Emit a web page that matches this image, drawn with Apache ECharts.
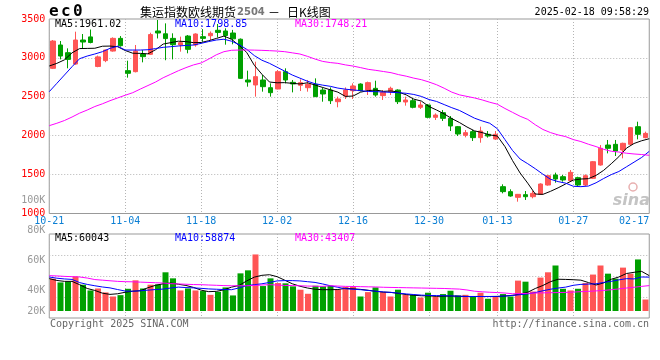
<!DOCTYPE html>
<html><head><meta charset="utf-8">
<script src="https://cdn.jsdelivr.net/npm/echarts@6/dist/echarts.min.js"></script>
<style>html,body{margin:0;padding:0;background:#fff}#c{width:660px;height:360px}</style>
</head><body><div id="c"></div>
<script>
const dates = ['10-21','10-22','10-23','10-24','10-25','10-28','10-29','10-30','10-31','11-01',
'11-04','11-05','11-06','11-07','11-08','11-11','11-12','11-13','11-14','11-15',
'11-18','11-19','11-20','11-21','11-22','11-25','11-26','11-27','11-28','11-29',
'12-02','12-03','12-04','12-05','12-06','12-09','12-10','12-11','12-12','12-13',
'12-16','12-17','12-18','12-19','12-20','12-23','12-24','12-25','12-26','12-27',
'12-30','12-31','01-02','01-03','01-06','01-07','01-08','01-09','01-10',
'01-13','01-14','01-15','01-16','01-17','01-20','01-21','01-22','01-23','01-24',
'01-27','02-05','02-06','02-07','02-10','02-11','02-12','02-13','02-14','02-17','02-18'];
const openP = [2866,3166,3067,2921,3230,3270,2890,2965,3088,3251,2836,2823,3050,3046,3346,3310,3251,3166,3281,3166,3273,3285,3355,3346,3320,3240,2716,2652,2716,2617,2600,2823,2686,2648,2617,2660,2587,2587,2437,2510,2579,2664,2587,2609,2515,2566,2587,2433,2450,2365,2395,2236,2296,2223,2116,2005,2052,1975,2018,1957,1345,1281,1208,1242,1216,1246,1366,1495,1473,1422,1461,1366,1452,1623,1880,1889,1816,1889,2116,1975];
const closeP = [3217,3024,2981,3230,3204,3198,3013,3101,3251,3157,2802,3088,3016,3300,3320,3248,3170,3196,3110,3307,3251,3316,3328,3288,3245,2737,2690,2759,2630,2553,2823,2716,2665,2682,2660,2502,2536,2450,2472,2587,2639,2579,2682,2523,2557,2609,2437,2459,2365,2395,2236,2266,2223,2125,2022,2039,1975,2060,1996,2018,1281,1225,1246,1216,1259,1379,1486,1443,1431,1529,1366,1486,1666,1838,1838,1803,1902,2103,2018,2030];
const lowP = [2857,2981,2866,2910,3123,3187,2880,2945,3080,3144,2746,2814,2943,3037,3250,2970,2981,3080,3059,3144,3208,3230,3264,3170,3175,2730,2630,2502,2566,2502,2596,2673,2557,2574,2566,2502,2437,2407,2365,2472,2472,2570,2523,2502,2459,2523,2407,2386,2352,2343,2223,2202,2189,2060,1996,1979,1932,1910,1975,1945,1259,1216,1152,1174,1195,1238,1358,1396,1409,1409,1345,1353,1443,1615,1773,1739,1709,1880,1953,1966];
const highP = [3230,3217,3123,3337,3307,3365,3030,3105,3264,3281,2964,3166,3101,3324,3487,3444,3316,3273,3294,3316,3370,3340,3436,3380,3360,3250,2836,2951,2780,2673,2844,2866,2716,2724,2716,2737,2621,2621,2502,2621,2673,2673,2695,2707,2587,2630,2596,2502,2480,2437,2407,2287,2330,2253,2125,2073,2073,2116,2060,2060,1375,1311,1251,1289,1289,1388,1495,1525,1495,1559,1473,1503,1675,1880,1945,1945,1910,2108,2180,2052];
const ma5 = [2896,2930,2975,3065,3120,3122,3124,3150,3152,3144,3095,3060,3058,3052,3105,3178,3196,3215,3209,3196,3198,3221,3250,3280,3240,3160,3070,2905,2790,2690,2680,2682,2673,2665,2680,2652,2620,2590,2560,2505,2510,2560,2580,2587,2570,2575,2560,2525,2470,2445,2375,2330,2280,2220,2170,2112,2062,2040,2010,1996,1860,1680,1520,1390,1250,1246,1285,1330,1380,1430,1443,1448,1490,1555,1640,1730,1840,1900,1935,1961];
const ma10 = [2566,2673,2780,2887,2990,3024,3050,3080,3123,3150,3101,3101,3101,3105,3120,3136,3144,3153,3160,3166,3187,3210,3230,3240,3215,3170,3110,3030,2970,2930,2880,2830,2780,2740,2700,2668,2650,2635,2612,2598,2588,2579,2568,2566,2562,2557,2553,2545,2530,2505,2465,2440,2400,2360,2325,2275,2225,2190,2160,2090,1950,1810,1700,1640,1575,1505,1440,1410,1390,1350,1345,1353,1395,1450,1500,1540,1600,1660,1720,1799];
const ma30 = [2129,2160,2195,2240,2290,2330,2375,2410,2450,2485,2520,2553,2600,2645,2690,2745,2790,2835,2875,2910,2935,2985,3040,3080,3098,3101,3102,3100,3097,3093,3088,3080,3065,3050,3020,2985,2955,2940,2930,2910,2895,2875,2853,2840,2825,2810,2785,2765,2740,2720,2690,2655,2610,2560,2525,2505,2485,2460,2430,2405,2350,2300,2250,2210,2140,2080,2040,2010,1988,1950,1925,1890,1860,1825,1800,1790,1775,1765,1758,1748];
const volume = [48000,45500,46000,49500,44000,40200,41500,38900,36200,37100,41300,46900,41500,44000,44200,52200,48200,40200,41500,40200,39800,37300,39300,42200,36900,51500,53500,64000,43100,48200,45100,44900,42900,40700,38000,43300,42900,43300,40700,42500,42500,36200,39100,42200,39100,36200,40700,37300,37300,35500,38700,36200,37800,40000,36900,37300,36200,38700,34700,36200,37800,36200,46700,46000,39500,48700,52200,56700,41300,40200,41300,45100,50700,56700,51300,48000,55300,51300,60700,34200];
const volMa5 = [48000,46800,46200,46200,44000,41500,40200,38400,37600,38000,39000,39700,40000,42000,43600,44600,45100,44300,43500,42200,40400,39400,39600,40600,42400,43500,46500,49000,50200,50600,49300,47000,44600,43000,41800,41000,40700,40700,40800,41600,41300,40900,40300,39600,39100,38900,38200,37500,37000,36700,36600,36300,36400,36500,36300,36200,36200,36200,36200,36200,36500,37000,37800,39000,41500,43500,46000,47600,47500,47300,47000,45400,43800,45200,47600,49100,51400,52200,52800,50000];
const volMa10 = [49100,48300,47800,47500,45400,44200,43300,42500,41900,40800,39800,39700,40000,40400,40800,41100,41800,42400,42100,41900,41600,41200,41000,40800,40700,41900,43400,44000,44600,45500,46500,46700,46700,46500,46000,45500,44500,43300,42300,41300,41000,40700,40200,39700,39200,38900,38400,37900,37500,37100,36900,36800,36700,36600,36400,36200,36200,36200,36200,36300,36500,36900,37400,37900,38800,40000,41000,41800,42400,43600,44200,44400,44600,45500,46200,47200,48000,47800,49100,49000];
const volMa30 = [50000,49800,49500,49300,49100,48400,47400,47000,46600,46200,46000,45900,45700,45500,45300,45100,44700,44500,44300,44100,44000,43800,43600,43400,43300,43300,43300,43500,43800,44000,43800,43500,43400,43300,43100,43000,42900,43300,43100,42900,42800,42700,42600,42500,42300,42200,42100,42000,41900,41800,41700,41600,41500,41300,41100,40500,39700,39300,39000,38800,38500,38000,38100,38300,38500,38600,38700,38800,38900,39100,39400,39600,39900,40200,40700,41200,41800,42300,42900,43400];
const priceMin = 1000, priceMax = 3500, priceStep = 500;
const volLabelMin = 20000, volLabelMax = 100000, volLabelStep = 20000;
const gridDates = ['10-21','11-04','11-18','12-02','12-16','12-30','01-13','01-27'];
const lastLabel = '02-17';
const titleCode = 'ec0';
const titleName = '集运指数欧线期货';
const titleNo = '2504';
const titleTail = '日K线图';
const stamp = '2025-02-18 09:58:29';
const headMain = ['MA5:1961.02','MA10:1798.85','MA30:1748.21'];
const headVol = ['MA5:60043','MA10:58874','MA30:43407'];
const footL = 'Copyright 2025 SINA.COM';
const footR = 'http://finance.sina.com.cn';

const RED = '#ff5555', GREEN = '#00a000';
const MAC = ['#000000', '#0000ff', '#ff00ff'];
const mono = 'DejaVu Sans Mono';
const L = 49.25, W = 600;
const mainTop = 19, mainH = 194.5;
const volBoxTop = 234, volBoxH = 84;
const volDataTop = 234, volDataH = 77;
const volLabTop = 200, volLabH = 121;
const vSpan = volLabelMax - volLabelMin;
const volMin = volLabelMin + (volLabTop + volLabH - (volDataTop + volDataH)) / volLabH * vSpan;
const volMax = volLabelMin + (volLabTop + volLabH - volDataTop) / volLabH * vSpan;
const dotted = {color: '#b4b4b4', type: [1, 2], width: 1};
const isGrid = (i, v) => gridDates.indexOf(v) >= 0;

const chart = echarts.init(document.getElementById('c'), null, {renderer: 'canvas', width: 660, height: 360});
const txt = (text, x, y, fill, font, align) => ({type: 'text', silent: true, z: 100,
  style: {text, x, y, fill, font, textAlign: align || 'left', align: align || 'left', textVerticalAlign: 'middle', verticalAlign: 'middle'}});

const codeTexts = titleCode.split('').map((ch, k) => txt(ch, 49 + k * 12, 12, '#000', 'bold 16px "DejaVu Sans Mono"'));

const option = {
  animation: false,
  backgroundColor: '#fff',
  grid: [
    {left: L, width: W, top: mainTop, height: mainH, show: true, borderColor: '#999', borderWidth: 1, outerBoundsMode: 'none'},
    {left: L, width: W, top: volBoxTop, height: volBoxH, show: true, borderColor: '#999', borderWidth: 1, outerBoundsMode: 'none'},
    {left: L, width: W, top: volDataTop, height: volDataH, outerBoundsMode: 'none'},
    {left: L, width: W, top: volLabTop, height: volLabH, outerBoundsMode: 'none'}
  ],
  xAxis: [
    {gridIndex: 0, type: 'category', position: 'bottom', data: dates, boundaryGap: true, show: false},
    {gridIndex: 0, type: 'category', position: 'bottom', data: dates, boundaryGap: false,
      axisLine: {show: false}, axisTick: {show: false},
      axisLabel: {show: true, interval: (i, v) => isGrid(i, v) || v === lastLabel, margin: 3,
        formatter: (v) => v === lastLabel ? '{e|' + v + '}' : '{n|' + v + '}',
        rich: {
          n: {color: '#0b7fd4', fontFamily: mono, fontSize: 10},
          e: {color: '#0b7fd4', fontFamily: mono, fontSize: 10, padding: [0, 15, 0, 0]}
        }},
      splitLine: {show: true, interval: isGrid, lineStyle: dotted}},
    {gridIndex: 1, type: 'category', position: 'bottom', data: dates, boundaryGap: false,
      axisLine: {show: false}, axisTick: {show: false}, axisLabel: {show: false},
      splitLine: {show: true, interval: isGrid, lineStyle: dotted}},
    {gridIndex: 2, type: 'category', position: 'bottom', data: dates, boundaryGap: true, show: false},
    {gridIndex: 2, type: 'category', position: 'top', data: dates, boundaryGap: false, show: false},
    {gridIndex: 3, type: 'category', position: 'bottom', data: dates, show: false}
  ],
  yAxis: [
    {gridIndex: 0, type: 'value', position: 'left', min: priceMin, max: priceMax, interval: priceStep,
      axisLine: {show: false}, axisTick: {show: false},
      axisLabel: {color: '#ff0000', fontFamily: mono, fontSize: 10, margin: 4, padding: [0, 0, 4, 0], formatter: (v) => String(v)},
      splitLine: {show: true, showMinLine: false, showMaxLine: false, lineStyle: dotted}},
    {gridIndex: 1, type: 'value', position: 'left', min: 0, max: 4, interval: 1,
      axisLine: {show: false}, axisTick: {show: false}, axisLabel: {show: false},
      splitLine: {show: true, showMinLine: false, showMaxLine: false, lineStyle: dotted}},
    {gridIndex: 2, type: 'value', position: 'left', min: volMin, max: volMax, show: false, splitLine: {show: false}},
    {gridIndex: 3, type: 'value', position: 'left', min: volLabelMin, max: volLabelMax, interval: volLabelStep,
      axisLine: {show: false}, axisTick: {show: false}, splitLine: {show: false},
      axisLabel: {margin: 4,
        formatter: (v) => v === volLabelMin ? '{m|' + (v / 1000) + 'K}' : '{n|' + (v / 1000) + 'K}',
        rich: {
          n: {color: '#999', fontFamily: mono, fontSize: 10},
          m: {color: '#999', fontFamily: mono, fontSize: 10, padding: [0, 0, 20, 0]}
        }}}
  ],
  series: [
    {type: 'candlestick', xAxisIndex: 0, yAxisIndex: 0, barWidth: 5, silent: true,
      data: dates.map((d, i) => [openP[i], closeP[i], lowP[i], highP[i]]),
      itemStyle: {color: RED, color0: GREEN, borderColor: RED, borderColor0: GREEN, borderWidth: 1}},
    ...[ma5, ma10, ma30].map((arr, k) => ({type: 'line', xAxisIndex: 1, yAxisIndex: 0, data: arr, showSymbol: false, silent: true,
      lineStyle: {color: MAC[k], width: 1}, z: 5})),
    {type: 'bar', xAxisIndex: 3, yAxisIndex: 2, barWidth: 6, silent: true,
      data: volume.map((v, i) => ({value: v, itemStyle: {color: closeP[i] >= openP[i] ? RED : GREEN}}))},
    ...[volMa5, volMa10, volMa30].map((arr, k) => ({type: 'line', xAxisIndex: 4, yAxisIndex: 2, data: arr, showSymbol: false, silent: true,
      lineStyle: {color: MAC[k], width: 1}, z: 5}))
  ],
  graphic: [
    ...codeTexts,
    txt(titleName, 140, 12, '#000', '12px "Noto Sans CJK SC"'),
    txt(titleNo, 237, 12, '#777', 'bold 10px "DejaVu Sans"'),
    txt('－', 268, 12, '#000', '12px "Noto Sans CJK SC"'),
    txt(titleTail, 287, 12, '#000', '12px "Noto Sans CJK SC"'),
    txt(stamp, 649, 12, '#000', '10px "DejaVu Sans Mono"', 'right'),
    txt(headMain[0], 55, 24, MAC[0], '10px "DejaVu Sans Mono"'),
    txt(headMain[1], 175, 24, MAC[1], '10px "DejaVu Sans Mono"'),
    txt(headMain[2], 295, 24, MAC[2], '10px "DejaVu Sans Mono"'),
    txt(headVol[0], 55, 238.5, MAC[0], '10px "DejaVu Sans Mono"'),
    txt(headVol[1], 175, 238.5, MAC[1], '10px "DejaVu Sans Mono"'),
    txt(headVol[2], 295, 238.5, MAC[2], '10px "DejaVu Sans Mono"'),
    txt(footL, 50, 324, '#666', '10px "DejaVu Sans Mono"'),
    txt(footR, 649, 324, '#666', '10px "DejaVu Sans Mono"', 'right'),
    txt('sina', 650, 201, '#c4c4c4', 'italic bold 16px "DejaVu Sans"', 'right'),
    {type: 'circle', silent: true, shape: {cx: 633, cy: 187, r: 4}, style: {fill: 'none', stroke: '#e8b0b0', lineWidth: 1.5}}
  ]
};
chart.setOption(option);
</script>
</body></html>
